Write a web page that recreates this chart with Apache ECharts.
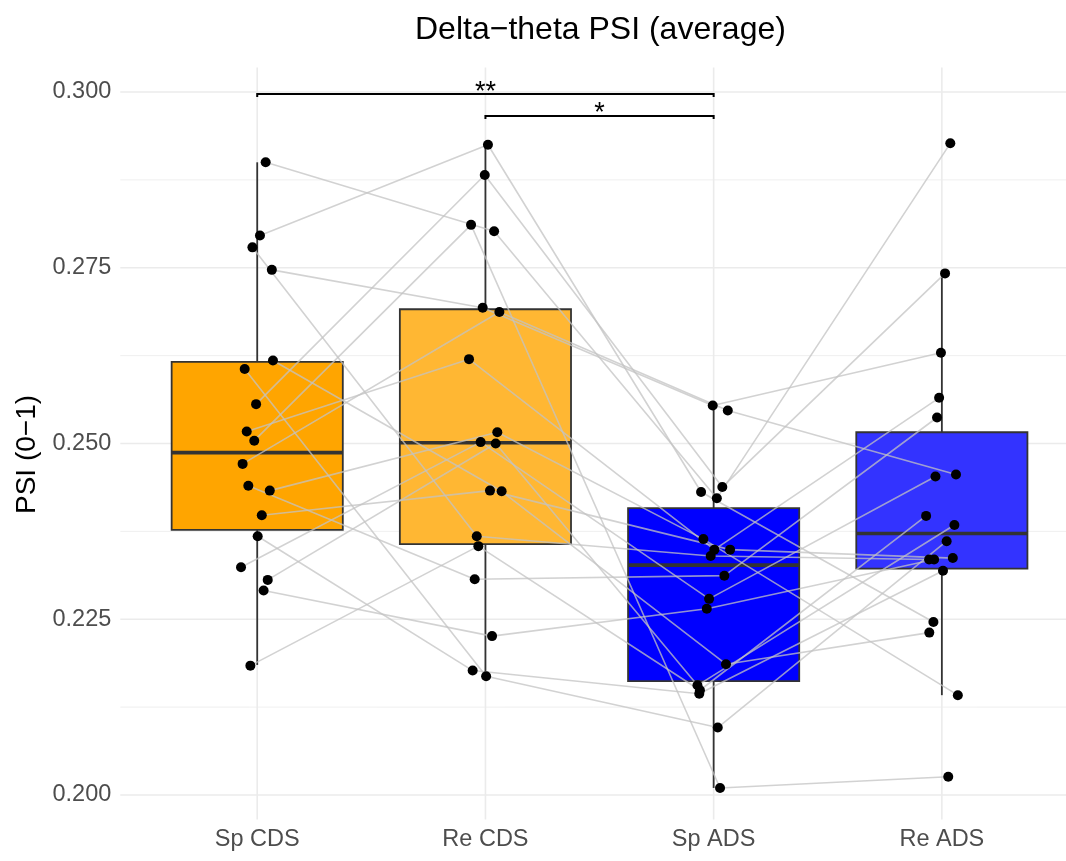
<!DOCTYPE html>
<html><head><meta charset="utf-8">
<script src="https://cdn.jsdelivr.net/npm/echarts@6/dist/echarts.min.js"></script>
<style>html,body{margin:0;padding:0;background:#fff}#c{width:1066px;height:861px}</style>
</head><body><div id="c"></div>
<script>
// ---------------- data ----------------
const categories = ['Sp CDS', 'Re CDS', 'Sp ADS', 'Re ADS'];
// per-subject PSI values (same subject order in every group)
const spCDS = [0.2900,0.2796,0.2779,0.2747,0.2618,0.2606,0.2556,0.2517,0.2504,0.2471,0.2440,0.2433,0.2398,0.2368,0.2324,0.2306,0.2291,0.2184];
const reCDS = [0.2802,0.2925,0.2368,0.2693,0.2432,0.2169,0.2882,0.2620,0.2811,0.2687,0.2307,0.2516,0.2433,0.2177,0.2502,0.2500,0.2226,0.2354];
const spADS = [0.2422,0.2431,0.2340,0.2554,0.2186,0.2096,0.2438,0.2349,0.2010,0.2547,0.2312,0.2364,0.2349,0.2144,0.2279,0.2156,0.2265,0.2149];
const reADS = [0.2927,0.2246,0.2335,0.2629,0.2231,0.2361,0.2742,0.2565,0.2026,0.2456,0.2537,0.2142,0.2337,0.2319,0.2453,0.2384,0.2335,0.2397];
// horizontal jitter of each point (category units)
const jitSpCDS = [0.037,0.012,-0.021,0.064,0.069,-0.055,-0.005,-0.046,-0.013,-0.064,-0.039,0.055,0.020,0.002,-0.071,0.046,0.028,-0.030];
const jitReCDS = [0.038,0.011,-0.038,-0.012,0.071,0.003,-0.003,-0.072,-0.063,0.061,-0.047,0.052,0.020,-0.056,-0.021,0.045,0.029,-0.031];
const jitSpADS = [0.014,-0.055,-0.013,-0.004,0.054,0.018,0.038,0.003,0.028,0.062,0.047,-0.045,0.072,-0.063,-0.020,-0.071,-0.030,-0.060];
const jitReADS = [0.037,-0.037,-0.056,-0.004,-0.055,0.021,0.014,-0.012,0.028,0.062,-0.021,0.070,0.048,0.005,-0.028,0.055,-0.034,-0.069];
// box statistics per group
const whiskerLow = [0.2185, 0.2169, 0.2010, 0.2142];
const quart1     = [0.2377, 0.2357, 0.2162, 0.2322];
const medians    = [0.2487, 0.2501, 0.2327, 0.2372];
const quart3     = [0.2616, 0.2691, 0.2408, 0.2516];
const whiskerHigh= [0.2900, 0.2925, 0.2554, 0.2742];
// axis ticks
const yTicks = [0.200, 0.225, 0.250, 0.275, 0.300];
const yMinor = [0.2125, 0.2375, 0.2625, 0.2875];
const xTicks = [1, 2, 3, 4];
// significance brackets
const sigFrom = [1, 2];
const sigTo = [3, 3];
const sigY = [0.2997, 0.2966];
const sigText = ['**', '*'];

// ---------------- style ----------------
const FONT = '"Liberation Sans", Arial, Helvetica, sans-serif';
const fills = ['#FFA500', '#FFB733', '#0000FF', '#3333FF'];
const groups = [spCDS, reCDS, spADS, reADS];
const jits = [jitSpCDS, jitReCDS, jitSpADS, jitReADS];

const chart = echarts.init(document.getElementById('c'), null, {renderer: 'canvas'});

// gridline items: [kind(0=horizontal,1=vertical), value, width]
const gridItems = [];
yTicks.forEach(v => gridItems.push([0, v, 1.6]));
yMinor.forEach(v => gridItems.push([0, v, 0.8]));
xTicks.forEach(v => gridItems.push([1, v, 1.6]));

function renderGrid(params, api) {
  const cs = params.coordSys;
  const kind = api.value(0), v = api.value(1), w = api.value(2);
  if (kind === 0) {
    const y = api.coord([1, v])[1];
    return {type: 'line', shape: {x1: cs.x, y1: y, x2: cs.x + cs.width, y2: y},
      style: {stroke: '#EBEBEB', lineWidth: w}};
  }
  const x = api.coord([v, 0.25])[0];
  return {type: 'line', shape: {x1: x, y1: cs.y, x2: x, y2: cs.y + cs.height},
    style: {stroke: '#EBEBEB', lineWidth: w}};
}

const boxData = categories.map((c, i) => [i + 1, whiskerLow[i], quart1[i], medians[i], quart3[i], whiskerHigh[i]]);
function renderBox(params, api) {
  const x = api.value(0);
  const lo = api.coord([x, api.value(1)]);
  const b1 = api.coord([x, api.value(2)]);
  const md = api.coord([x, api.value(3)]);
  const b3 = api.coord([x, api.value(4)]);
  const hi = api.coord([x, api.value(5)]);
  const hw = api.size([0.75, 0])[0] / 2;
  const cx = lo[0];
  const st = {stroke: '#333333', lineWidth: 1.8};
  return {type: 'group', children: [
    {type: 'line', shape: {x1: cx, y1: hi[1], x2: cx, y2: b3[1]}, style: st},
    {type: 'line', shape: {x1: cx, y1: b1[1], x2: cx, y2: lo[1]}, style: st},
    {type: 'rect', shape: {x: cx - hw, y: b3[1], width: 2 * hw, height: b1[1] - b3[1]},
      style: {fill: fills[params.dataIndex], stroke: '#333333', lineWidth: 1.8}},
    {type: 'line', shape: {x1: cx - hw, y1: md[1], x2: cx + hw, y2: md[1]},
      style: {stroke: '#333333', lineWidth: 3.6}}
  ]};
}

const sigData = sigFrom.map((f, i) => [f, sigTo[i], sigY[i]]);
function renderSig(params, api) {
  const i = params.dataIndex;
  const a = api.coord([api.value(0), api.value(2)]);
  const b = api.coord([api.value(1), api.value(2)]);
  const tip = 3;
  return {type: 'group', children: [
    {type: 'polyline', shape: {points: [[a[0], a[1] + tip], [a[0], a[1]], [b[0], b[1]], [b[0], b[1] + tip]]},
      style: {stroke: '#000', lineWidth: 2, fill: null}},
    {type: 'text', x: (a[0] + b[0]) / 2, y: a[1] - 2,
      style: {text: sigText[i], align: 'center', verticalAlign: 'middle', fontSize: 27, fill: '#000', fontFamily: FONT}}
  ]};
}

const series = [];
series.push({type: 'custom', name: 'grid', data: gridItems, renderItem: renderGrid, z: 0, silent: true,
  encode: {x: 0, y: 1}, clip: false});
series.push({type: 'custom', name: 'box', data: boxData, renderItem: renderBox, z: 1, silent: true,
  encode: {x: 0, y: [1, 2, 3, 4, 5]}});
for (let s = 0; s < spCDS.length; s++) {
  series.push({type: 'line', data: groups.map((g, gi) => [gi + 1 + jits[gi][s], g[s]]),
    symbol: 'none', silent: true, z: 2,
    lineStyle: {color: 'rgba(195,195,195,0.75)', width: 1.6}});
}
const pts = [];
groups.forEach((g, gi) => g.forEach((v, s) => pts.push([gi + 1 + jits[gi][s], v])));
series.push({type: 'scatter', data: pts, symbolSize: 10, z: 3, silent: true,
  itemStyle: {color: '#000000', opacity: 1}});
series.push({type: 'custom', name: 'sig', data: sigData, renderItem: renderSig, z: 4, silent: true,
  encode: {x: [0, 1], y: 2}, clip: false});

chart.setOption({
  animation: false,
  backgroundColor: '#ffffff',
  title: {text: 'Delta\u2212theta PSI (average)', left: 415, top: 14, padding: 0,
    textStyle: {fontSize: 32, fontWeight: 'normal', color: '#000', fontFamily: FONT}},
  grid: {left: 120.3, right: 0, top: 67.4, bottom: 41.4, containLabel: false},
  xAxis: {type: 'value', min: 0.4, max: 4.544,
    axisLine: {show: false}, axisTick: {show: false, customValues: xTicks}, splitLine: {show: false},
    axisLabel: {customValues: xTicks, formatter: v => categories[Math.round(v) - 1] || '',
      fontSize: 23.5, color: '#4D4D4D', margin: 8, fontFamily: FONT}},
  yAxis: {type: 'value', min: 0.1965, max: 0.3035,
    axisLine: {show: false}, axisTick: {show: false, customValues: yTicks}, splitLine: {show: false},
    axisLabel: {customValues: yTicks, formatter: v => v.toFixed(3), fontSize: 23.5, color: '#4D4D4D',
      margin: 9, fontFamily: FONT},
    name: 'PSI (0\u22121)', nameLocation: 'middle', nameGap: 72, nameRotate: 90,
    nameTextStyle: {fontSize: 28, color: '#000', fontFamily: FONT, padding: [0, 22, 0, 0]}},
  series: series
});
</script>
</body></html>
